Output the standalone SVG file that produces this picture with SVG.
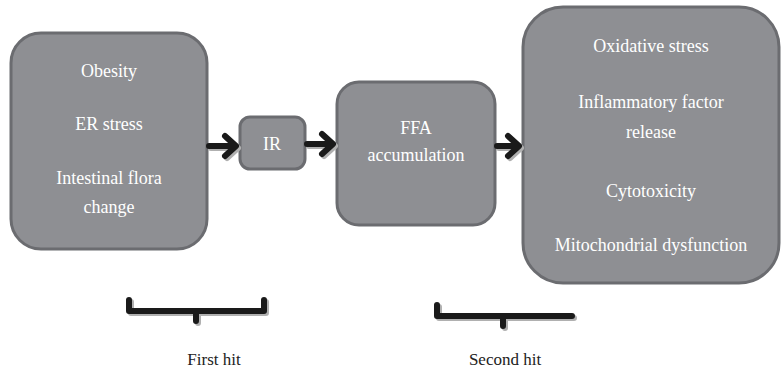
<svg xmlns="http://www.w3.org/2000/svg" width="781" height="373" viewBox="0 0 781 373">
<style>
.box{fill:#8e8f93;stroke:#6b6c70;stroke-width:3}
.arr{fill:none;stroke:#1a1a1a;stroke-width:6;stroke-linecap:round;stroke-linejoin:round}
.sh{fill:none;stroke:#b0b0b0;stroke-width:6;stroke-linecap:round;stroke-linejoin:round}
</style>
<rect width="781" height="373" fill="#ffffff"/>
<g font-family="Liberation Serif, DejaVu Serif, serif" font-size="18" fill="#ffffff" text-anchor="middle">
<g id="node-causes">
<rect class="box" x="11" y="33" width="196" height="216" rx="30"/>
<text x="109" y="77">Obesity</text>
<text x="109" y="130">ER stress</text>
<text x="109" y="184">Intestinal flora</text>
<text x="109" y="213">change</text>
</g>
<g id="node-ir">
<rect class="box" x="240" y="117" width="65" height="52" rx="10"/>
<text x="272" y="150">IR</text>
</g>
<g id="node-ffa">
<rect class="box" x="337" y="82" width="158" height="143" rx="22"/>
<text x="416" y="134">FFA</text>
<text x="416" y="161">accumulation</text>
</g>
<g id="node-effects">
<rect class="box" x="523" y="7" width="256" height="276" rx="40"/>
<text x="651" y="52">Oxidative stress</text>
<text x="651" y="108">Inflammatory factor</text>
<text x="651" y="138">release</text>
<text x="651" y="197">Cytotoxicity</text>
<text x="651" y="251">Mitochondrial dysfunction</text>
</g>
</g>
<g id="connectors">
<g transform="translate(2,2)">
<path class="sh" d="M209 146 H235 M225 136 L236 146 L225 156"/>
<path class="sh" d="M307 144 H332 M322 134 L333 144 L322 154"/>
<path class="sh" d="M497 146 H518 M508 136 L519 146 L508 156"/>
<path class="sh" d="M129 300 V311 H264 V300 M196 311 V321"/>
<path class="sh" d="M437 305 V316 H572 M503 316 V326"/>
</g>
<path class="arr" d="M209 146 H235 M225 136 L236 146 L225 156"/>
<path class="arr" d="M307 144 H332 M322 134 L333 144 L322 154"/>
<path class="arr" d="M497 146 H518 M508 136 L519 146 L508 156"/>
<path class="arr" d="M129 300 V311 H264 V300 M196 311 V321"/>
<path class="arr" d="M437 305 V316 H572 M503 316 V326"/>
</g>
<g font-family="Liberation Serif, DejaVu Serif, serif" font-size="17" fill="#222222" text-anchor="middle">
<text x="214" y="365">First hit</text>
<text x="505" y="365">Second hit</text>
</g>
</svg>
